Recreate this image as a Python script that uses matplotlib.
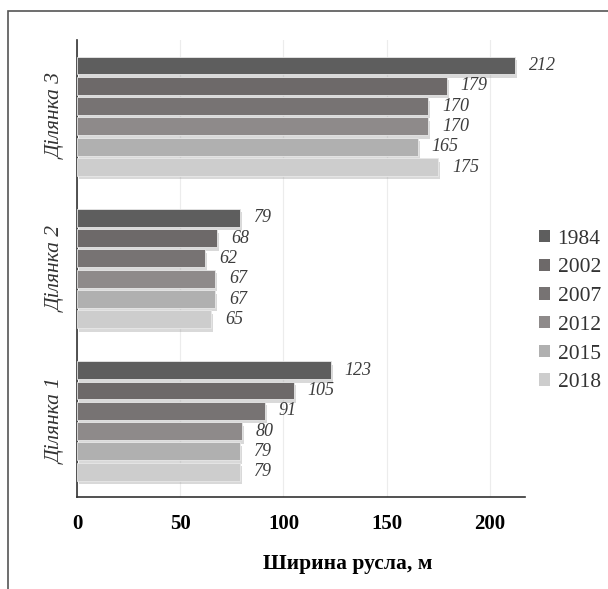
import matplotlib.pyplot as plt
import matplotlib.patheffects as pe
from matplotlib.patches import Rectangle, Patch

plt.rcParams['font.family'] = ['Liberation Serif', 'DejaVu Serif']

sites = ["Ділянка 1", "Ділянка 2", "Ділянка 3"]
years = ["1984", "2002", "2007", "2012", "2015", "2018"]
# channel width per year, one value per site (Ділянка 1, 2, 3)
width_1984 = [123, 79, 212]
width_2002 = [105, 68, 179]
width_2007 = [91, 62, 170]
width_2012 = [80, 67, 170]
width_2015 = [79, 67, 165]
width_2018 = [79, 65, 175]
series = [width_1984, width_2002, width_2007, width_2012, width_2015, width_2018]
colors = ["#5e5e5e", "#6d6969", "#777373", "#8e8a8a", "#b0b0b0", "#cdcdcd"]

fig = plt.figure(figsize=(6.08, 5.89), dpi=100)
ax = fig.add_axes([0.1266, 0.156, 0.737, 0.776])

slot = 0.8 / len(years)
shadow = [pe.SimplePatchShadow(offset=(1.5, -2.5), shadow_rgbFace="#a0a0a0", alpha=0.4),
          pe.Normal()]
for i, (yr, vals, c) in enumerate(zip(years, series, colors)):
    pos = [k + (2.5 - i) * slot for k in range(len(sites))]
    bars = ax.barh(pos, vals, height=slot * 0.88, color=c,
                   edgecolor="#e8e8e8", linewidth=0.6, zorder=3)
    for b in bars:
        b.set_path_effects(shadow)
    for p, v in zip(pos, vals):
        ax.annotate(str(v), (v, p), xytext=(10, 0), textcoords="offset points",
                    ha="left", va="center", fontsize=13, style="italic",
                    color="#3c3c3c", zorder=4)

ax.set_xlim(0, 217)
ax.set_ylim(-0.5, 2.5)
ax.set_xticks([0, 50, 100, 150, 200])
ax.set_xticklabels(["0", "50", "100", "150", "200"], fontsize=15, fontweight="bold")
ax.set_yticks(range(len(sites)))
ax.set_yticklabels(sites, rotation=90, va="center", fontsize=15.5, style="italic",
                   color="#333333")
ax.tick_params(axis="x", length=0, pad=12)
ax.tick_params(axis="y", length=0, pad=8)
ax.grid(axis="x", color="#ececec", linewidth=0.8, zorder=0)
for s in ["top", "right"]:
    ax.spines[s].set_visible(False)
for s in ["left", "bottom"]:
    ax.spines[s].set_color("#333333")
    ax.spines[s].set_linewidth(1.2)

ax.set_xlabel("Ширина русла, м", fontsize=15.5, fontweight="bold")
ax.xaxis.set_label_coords(0.605, -0.125)

handles = [Patch(facecolor=c, label=yr) for yr, c in zip(years, colors)]
fig.legend(handles=handles, loc="center left", bbox_to_anchor=(0.855, 0.472),
           frameon=False, fontsize=15.5, handlelength=0.5, handleheight=0.5,
           handletextpad=0.35, labelspacing=0.45, labelcolor="#333333")

# outer frame around the chart
fig.patches.append(Rectangle((8 / 608, -0.05), 1.1, 1 - 11 / 589 + 0.05,
                             transform=fig.transFigure, fill=False,
                             edgecolor="#555555", linewidth=1.2))

fig.savefig("out.png", dpi=100)
